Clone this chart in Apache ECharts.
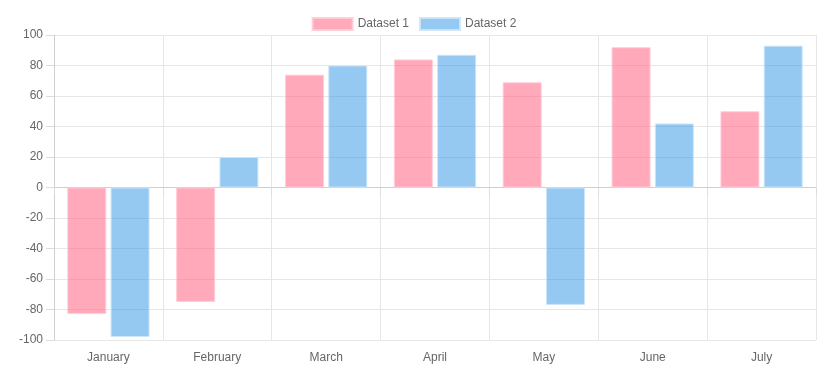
<!DOCTYPE html>
<html>
<head>
<meta charset="utf-8">
<script src="https://cdn.jsdelivr.net/npm/echarts@6/dist/echarts.min.js"></script>
<style>
  html, body { margin: 0; padding: 0; background: #fff; }
  #chart { width: 828px; height: 377px; }
</style>
</head>
<body>
<div id="chart"></div>
<script>
const months = ['January', 'February', 'March', 'April', 'May', 'June', 'July'];
const dataset1 = [-83, -75, 74, 84, 69, 92, 50];
const dataset2 = [-98, 20, 80, 87, -77, 42, 93];

const chart = echarts.init(document.getElementById('chart'));
const font = '"Liberation Sans", Helvetica, Arial, sans-serif';

const option = {
  animation: false,
  textStyle: { fontFamily: font },
  legend: {
    top: 12,
    icon: 'rect',
    itemWidth: 40,
    itemHeight: 12,
    itemGap: 10,
    textStyle: { color: '#666', fontSize: 12, fontFamily: font },
    data: ['Dataset 1', 'Dataset 2']
  },
  grid: { left: 54, right: 12, top: 35, bottom: 37 },
  xAxis: {
    type: 'category',
    data: months,
    axisLine: { lineStyle: { color: '#cfcfcf' } },
    axisTick: { show: true, length: 7, lineStyle: { color: '#dcdcdc' } },
    axisLabel: { color: '#666', fontSize: 12, margin: 12, fontFamily: font },
    splitLine: { show: true, lineStyle: { color: '#e6e6e6' } }
  },
  yAxis: {
    type: 'value',
    min: -100,
    max: 100,
    interval: 20,
    axisLine: { show: true, lineStyle: { color: '#cfcfcf' } },
    axisTick: { show: true, length: 8, lineStyle: { color: '#dcdcdc' } },
    axisLabel: { color: '#666', fontSize: 12, margin: 11, fontFamily: font },
    splitLine: { show: true, lineStyle: { color: '#e6e6e6' } }
  },
  series: [
    {
      name: 'Dataset 1',
      type: 'bar',
      data: dataset1,
      barWidth: 39,
      barGap: '11%',
      itemStyle: {
        color: 'rgba(255, 99, 132, 0.55)',
        borderColor: 'rgba(255, 205, 215, 0.9)',
        borderWidth: 1
      }
    },
    {
      name: 'Dataset 2',
      type: 'bar',
      data: dataset2,
      barWidth: 39,
      itemStyle: {
        color: 'rgba(54, 152, 230, 0.52)',
        borderColor: 'rgba(205, 230, 250, 0.9)',
        borderWidth: 1
      }
    }
  ]
};

chart.setOption(option);
</script>
</body>
</html>
